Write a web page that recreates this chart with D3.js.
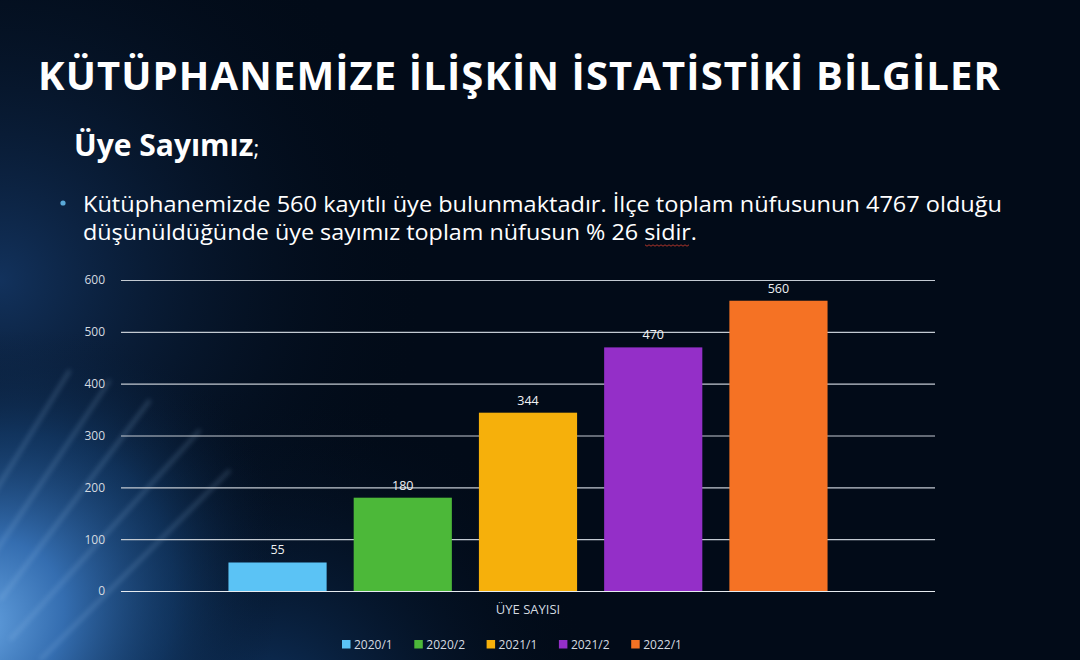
<!DOCTYPE html>
<html>
<head>
<meta charset="utf-8">
<script src="https://cdn.jsdelivr.net/npm/d3@7"></script>
<style>
  html, body { margin: 0; padding: 0; background: #020b18; }
  svg { display: block; }
</style>
</head>
<body>
<svg id="chart" width="1080" height="660"></svg>
<script>
// ---- data ----
const categories = ["ÜYE SAYISI"];
const seriesNames = ["2020/1", "2020/2", "2021/1", "2021/2", "2022/1"];
const seriesValues = [55, 180, 344, 470, 560];
const seriesColors = ["#5bc3f5", "#4cb839", "#f6b00b", "#942fc8", "#f57224"];
const yTicks = [0, 100, 200, 300, 400, 500, 600];
const titleText = "KÜTÜPHANEMİZE İLİŞKİN İSTATİSTİKİ BİLGİLER";
const subtitleText = "Üye Sayımız";
const bulletLines = [
  "Kütüphanemizde 560 kayıtlı üye bulunmaktadır. İlçe toplam nüfusunun 4767 olduğu",
  "düşünüldüğünde üye sayımız toplam nüfusun % 26 sidir."
];

const svg = d3.select("#chart");
const W = 1080, H = 660;
const font = "'Open Sans', 'Noto Sans', sans-serif";

// ---- background ----
const defs = svg.append("defs");
const g1 = defs.append("radialGradient").attr("id", "glow")
  .attr("gradientUnits", "userSpaceOnUse")
  .attr("cx", -30).attr("cy", 630).attr("r", 340)
  .attr("gradientTransform", "translate(-30 630) rotate(-40) scale(1 0.8) translate(30 -630)");
g1.append("stop").attr("offset", "0%").attr("stop-color", "#6aa8e6").attr("stop-opacity", 1);
g1.append("stop").attr("offset", "30%").attr("stop-color", "#3a78c0").attr("stop-opacity", 0.9);
g1.append("stop").attr("offset", "65%").attr("stop-color", "#18487f").attr("stop-opacity", 0.55);
g1.append("stop").attr("offset", "100%").attr("stop-color", "#05162d").attr("stop-opacity", 0);

const g2 = defs.append("radialGradient").attr("id", "topglow")
  .attr("gradientUnits", "userSpaceOnUse")
  .attr("cx", 0).attr("cy", 280).attr("r", 430);
g2.append("stop").attr("offset", "0%").attr("stop-color", "#133460").attr("stop-opacity", 0.95);
g2.append("stop").attr("offset", "100%").attr("stop-color", "#020b18").attr("stop-opacity", 0);

const g3 = defs.append("radialGradient").attr("id", "botglow")
  .attr("gradientUnits", "userSpaceOnUse")
  .attr("cx", 260).attr("cy", 720).attr("r", 340);
g3.append("stop").attr("offset", "0%").attr("stop-color", "#134077").attr("stop-opacity", 0.8);
g3.append("stop").attr("offset", "100%").attr("stop-color", "#020b18").attr("stop-opacity", 0);

const blur = defs.append("filter").attr("id", "blur").attr("x", "-20%").attr("y", "-20%")
  .attr("width", "140%").attr("height", "140%");
blur.append("feGaussianBlur").attr("stdDeviation", 2.5);

svg.append("rect").attr("width", W).attr("height", H).attr("fill", "#020b18");
svg.append("rect").attr("width", W).attr("height", H).attr("fill", "url(#topglow)");
svg.append("rect").attr("width", W).attr("height", H).attr("fill", "url(#botglow)");
svg.append("rect").attr("width", W).attr("height", H).attr("fill", "url(#glow)");

// soft light streaks bottom-left
const streaks = svg.append("g").attr("opacity", 0.25).attr("filter", "url(#blur)");
[[-10, 560, 110, 380], [0, 600, 150, 400], [10, 640, 200, 430], [40, 660, 230, 470], [-10, 500, 70, 370]].forEach(s => {
  streaks.append("line").attr("x1", s[0]).attr("y1", s[1]).attr("x2", s[2]).attr("y2", s[3])
    .attr("stroke", "#a8cff5").attr("stroke-width", 3);
});

// ---- texts ----
svg.append("text").attr("x", 38).attr("y", 90)
  .attr("font-family", font).attr("font-weight", 700).attr("font-size", 40)
  .attr("fill", "#ffffff").attr("textLength", 962).attr("lengthAdjust", "spacing")
  .text(titleText);

const sub = svg.append("text").attr("x", 74).attr("y", 156)
  .attr("font-family", font).attr("font-size", 30).attr("fill", "#ffffff");
sub.append("tspan").attr("font-weight", 700).text(subtitleText);
sub.append("tspan").attr("font-weight", 400).attr("font-size", 22).text(";");

svg.append("circle").attr("cx", 63).attr("cy", 203).attr("r", 2.6).attr("fill", "#5aa9d8");
const bl = [[83, 212, 919], [83, 240, 614]];
bulletLines.forEach((t, i) => {
  svg.append("text").attr("x", bl[i][0]).attr("y", bl[i][1])
    .attr("font-family", font).attr("font-size", 21.5).attr("fill", "#ffffff")
    .attr("textLength", bl[i][2]).attr("lengthAdjust", "spacingAndGlyphs")
    .text(t);
});
// spell-check squiggle under "sidir"
const sq = d3.range(0, 46, 2).map((d, i) => [645 + d, 245 + (i % 2 ? 1.2 : -0.2)]);
svg.append("path").attr("d", d3.line()(sq)).attr("fill", "none")
  .attr("stroke", "#c0392b").attr("stroke-width", 0.9);

// ---- chart ----
const plotLeft = 121, plotRight = 935, plotTop = 280, plotBottom = 591;
const y = d3.scaleLinear().domain([0, 600]).range([plotBottom, plotTop]);
const x0 = d3.scaleBand().domain(categories).range([plotLeft, plotRight]).paddingOuter(0.15);
const x1 = d3.scaleBand().domain(seriesNames).range([0, x0.bandwidth()])
  .paddingInner(0.216).paddingOuter(0.108);

// gridlines via axis
const yGrid = svg.append("g").attr("transform", `translate(${plotLeft},0)`)
  .call(d3.axisLeft(y).tickValues(yTicks).tickSize(-(plotRight - plotLeft)).tickFormat(""));
yGrid.select(".domain").remove();
yGrid.selectAll(".tick line").attr("stroke", (d) => d === 0 ? "#e6ebf0" : "#c3cad2").attr("stroke-width", 1.2);

// y labels
const yAxis = svg.append("g").attr("transform", `translate(${plotLeft},0)`)
  .call(d3.axisLeft(y).tickValues(yTicks).tickSize(0).tickPadding(16));
yAxis.select(".domain").remove();
yAxis.selectAll("text").attr("font-family", font).attr("font-size", 12)
  .attr("fill", "#d4dae0");

// bars
const grp = svg.append("g").selectAll("g").data(categories).join("g")
  .attr("transform", d => `translate(${x0(d)},0)`);
const barData = seriesNames.map((n, i) => ({ name: n, value: seriesValues[i], color: seriesColors[i] }));
grp.selectAll("rect").data(barData).join("rect")
  .attr("x", d => x1(d.name)).attr("width", x1.bandwidth())
  .attr("y", d => y(d.value)).attr("height", d => y(0) - y(d.value))
  .attr("fill", d => d.color);
grp.selectAll("text.val").data(barData).join("text").attr("class", "val")
  .attr("x", d => x1(d.name) + x1.bandwidth() / 2).attr("y", d => y(d.value) - 8)
  .attr("text-anchor", "middle").attr("font-family", font).attr("font-size", 12.5)
  .attr("fill", "#f0f2f4").text(d => d.value);

// x axis category label
const xAxis = svg.append("g").attr("transform", `translate(0,${plotBottom})`)
  .call(d3.axisBottom(x0).tickSize(0).tickPadding(14));
xAxis.select(".domain").remove();
xAxis.selectAll("text").attr("font-family", font).attr("font-size", 13)
  .attr("fill", "#d4dae0");

// legend
const legend = svg.append("g").attr("transform", "translate(342,640)");
const li = legend.selectAll("g").data(barData).join("g")
  .attr("transform", (d, i) => `translate(${i * 72.3},0)`);
li.append("rect").attr("width", 8.5).attr("height", 8.5).attr("fill", d => d.color);
li.append("text").attr("x", 12).attr("y", 8.5).attr("font-family", font).attr("font-size", 12)
  .attr("fill", "#d4dae0").text(d => d.name);
</script>
</body>
</html>
